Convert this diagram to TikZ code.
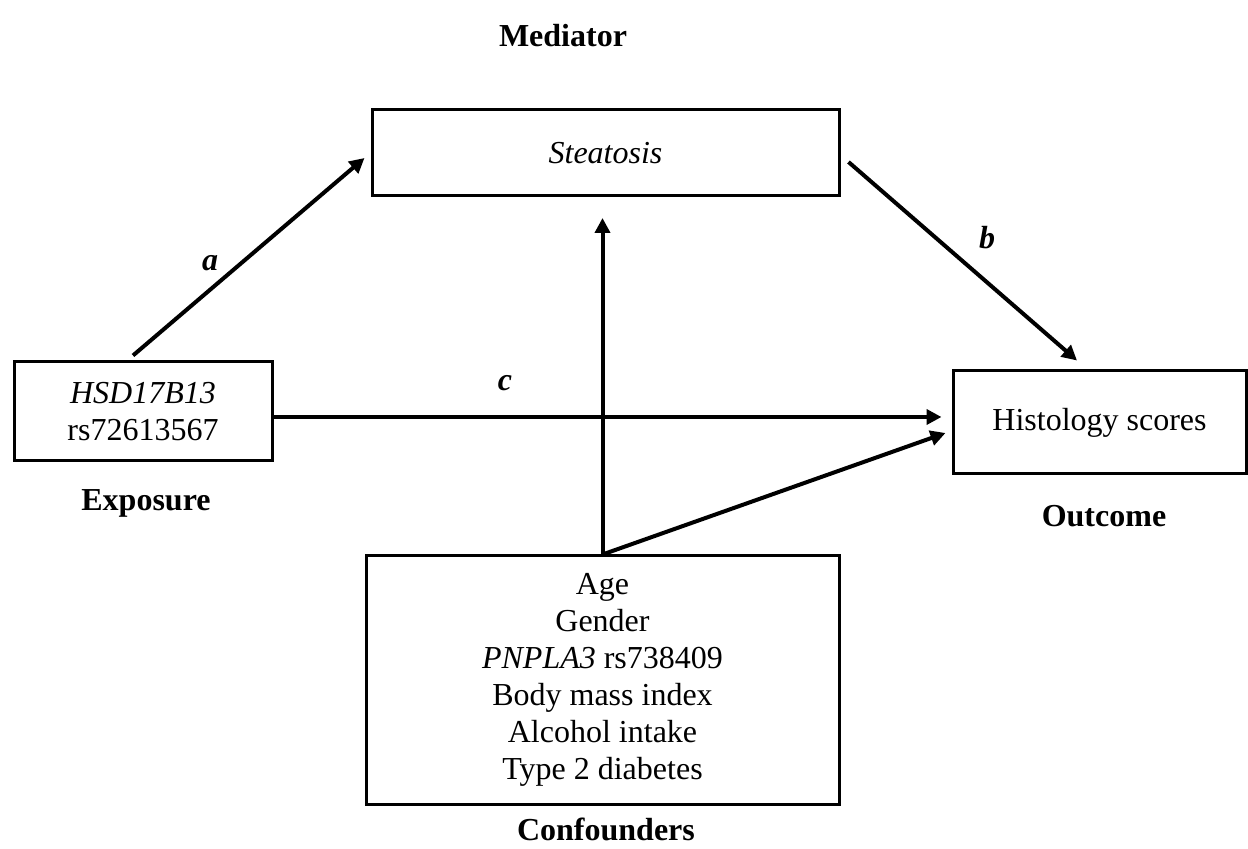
\documentclass[tikz,border=0pt]{standalone}
\usepackage{fontspec}
\setmainfont{Liberation Serif}
\usetikzlibrary{arrows.meta}
\begin{document}
\begin{tikzpicture}[x=0.5pt,y=-0.5pt,
  box/.style={draw=black,line width=1.5pt,inner sep=0pt,align=center,
    font=\fontsize{16pt}{18.5pt}\selectfont},
  lbl/.style={inner sep=0pt,font=\fontsize{16pt}{18.5pt}\selectfont\bfseries},
  coef/.style={inner sep=0pt,font=\fontsize{16pt}{18.5pt}\selectfont\bfseries\itshape},
  arr/.style={line width=2pt,-{Triangle[length=7.5pt,width=7.5pt]}}]
\useasboundingbox (0,0) rectangle (1248,849);
\node[box,minimum width=233.5pt,minimum height=43pt] (med) at (605.5,153) {\itshape Steatosis};
\node[box,minimum width=129pt,minimum height=49.5pt] (exp) at (143,411.5) {\itshape HSD17B13\\rs72613567};
\node[box,minimum width=146.5pt,minimum height=51.5pt] (out) at (1099.5,422.5) {Histology scores};
\node[box,minimum width=236.5pt,minimum height=124pt] (conf) at (602.5,680) {Age\\Gender\\\textit{PNPLA3} rs738409\\Body mass index\\Alcohol intake\\Type 2 diabetes};
\node[lbl] (medl) at (563,36) {Mediator};
\node[lbl] (expl) at (146,503) {Exposure};
\node[lbl] (outl) at (1104,516) {Outcome};
\node[lbl] (confl) at (606,829) {Confounders};
\node[coef] (la) at (210,263) {a};
\node[coef] (lb) at (987,238) {b};
\node[coef] (lc) at (505,383) {c};
\coordinate (vtip) at (602.5,218);
\draw[arr] ([xshift=-5pt,yshift=2.5pt]exp.north) -- ([xshift=-3pt,yshift=-2.5pt]med.west);
\draw[arr] ([xshift=4pt,yshift=-4.5pt]med.east) -- ([xshift=-11.25pt,yshift=4.5pt]out.north);
\draw[arr] ([yshift=-2.75pt]exp.east) -- ([xshift=-5pt,yshift=2.75pt]out.west);
\draw[arr] (conf.north) -- (vtip);
\draw[arr] (conf.north) -- ([xshift=-3pt,yshift=-5.25pt]out.west);
\end{tikzpicture}
\end{document}
